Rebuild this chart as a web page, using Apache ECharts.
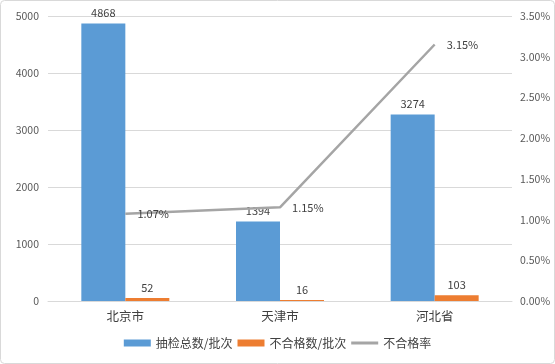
<!DOCTYPE html>
<html><head><meta charset="utf-8">
<script src="https://cdn.jsdelivr.net/npm/echarts@6/dist/echarts.min.js"></script>
<style>html,body{margin:0;padding:0;background:#fff}#c{width:555px;height:364px}</style>
</head><body><div id="c"></div>
<script>
const categories = ['北京市', '天津市', '河北省'];
const totalBatches = [4868, 1394, 3274];
const failedBatches = [52, 16, 103];
const failRate = [1.07, 1.15, 3.15];
const leftTicks = [0, 1000, 2000, 3000, 4000, 5000];
const seriesNames = ['抽检总数/批次', '不合格数/批次', '不合格率'];

const font = '"Noto Sans CJK SC", "Microsoft YaHei", sans-serif';
const chart = echarts.init(document.getElementById('c'), null, {renderer: 'canvas'});
chart.setOption({
  animation: false,
  textStyle: {fontFamily: font},
  graphic: [{type: 'rect', shape: {x: 0.5, y: 0.5, width: 554, height: 363, r: 4}, style: {fill: 'none', stroke: '#d9d9d9', lineWidth: 1}, silent: true}],
  grid: {left: 48, right: 43, top: 16, bottom: 63},
  legend: {
    bottom: 10, left: 'center', itemWidth: 27, itemHeight: 7, itemGap: 5,
    symbolKeepAspect: true,
    textStyle: {fontSize: 12, color: '#404040', fontFamily: font},
    data: [
      {name: seriesNames[0], icon: 'rect'},
      {name: seriesNames[1], icon: 'rect'},
      {name: seriesNames[2], icon: 'path://M0,0 L27,0 L27,3 L0,3 Z'}
    ]
  },
  xAxis: {
    type: 'category', data: categories,
    axisLine: {lineStyle: {color: '#d9d9d9'}},
    axisTick: {show: false},
    axisLabel: {fontSize: 12.5, color: '#404040', margin: 9, fontFamily: font}
  },
  yAxis: [{
    type: 'value', min: leftTicks[0], max: leftTicks[leftTicks.length - 1], interval: 1000,
    axisLabel: {fontSize: 10.5, color: '#595959', margin: 9, formatter: v => String(v)},
    splitLine: {lineStyle: {color: '#d9d9d9'}},
    axisLine: {show: false}, axisTick: {show: false}
  }, {
    type: 'value', min: 0, max: 3.5, interval: 0.5,
    axisLabel: {fontSize: 10.5, color: '#595959', margin: 8, formatter: v => v.toFixed(2) + '%'},
    splitLine: {show: false}, axisLine: {show: false}, axisTick: {show: false}
  }],
  series: [{
    name: seriesNames[0], type: 'bar', data: totalBatches, barWidth: 44, barGap: '0%',
    itemStyle: {color: '#5B9BD5'},
    label: {show: true, position: 'top', fontSize: 11, color: '#404040', distance: 5}
  }, {
    name: seriesNames[1], type: 'bar', data: failedBatches, barWidth: 44, barGap: '0%',
    itemStyle: {color: '#ED7D31'},
    label: {show: true, position: 'top', fontSize: 11, color: '#404040', distance: 5}
  }, {
    name: seriesNames[2], type: 'line', yAxisIndex: 1, data: failRate,
    symbol: 'circle', symbolSize: 0.1, showSymbol: true,
    lineStyle: {color: '#A5A5A5', width: 2.5}, itemStyle: {color: '#A5A5A5'},
    label: {show: true, position: 'right', distance: 12, fontSize: 11, color: '#404040', formatter: p => p.value.toFixed(2) + '%'}
  }]
});
</script></body></html>
